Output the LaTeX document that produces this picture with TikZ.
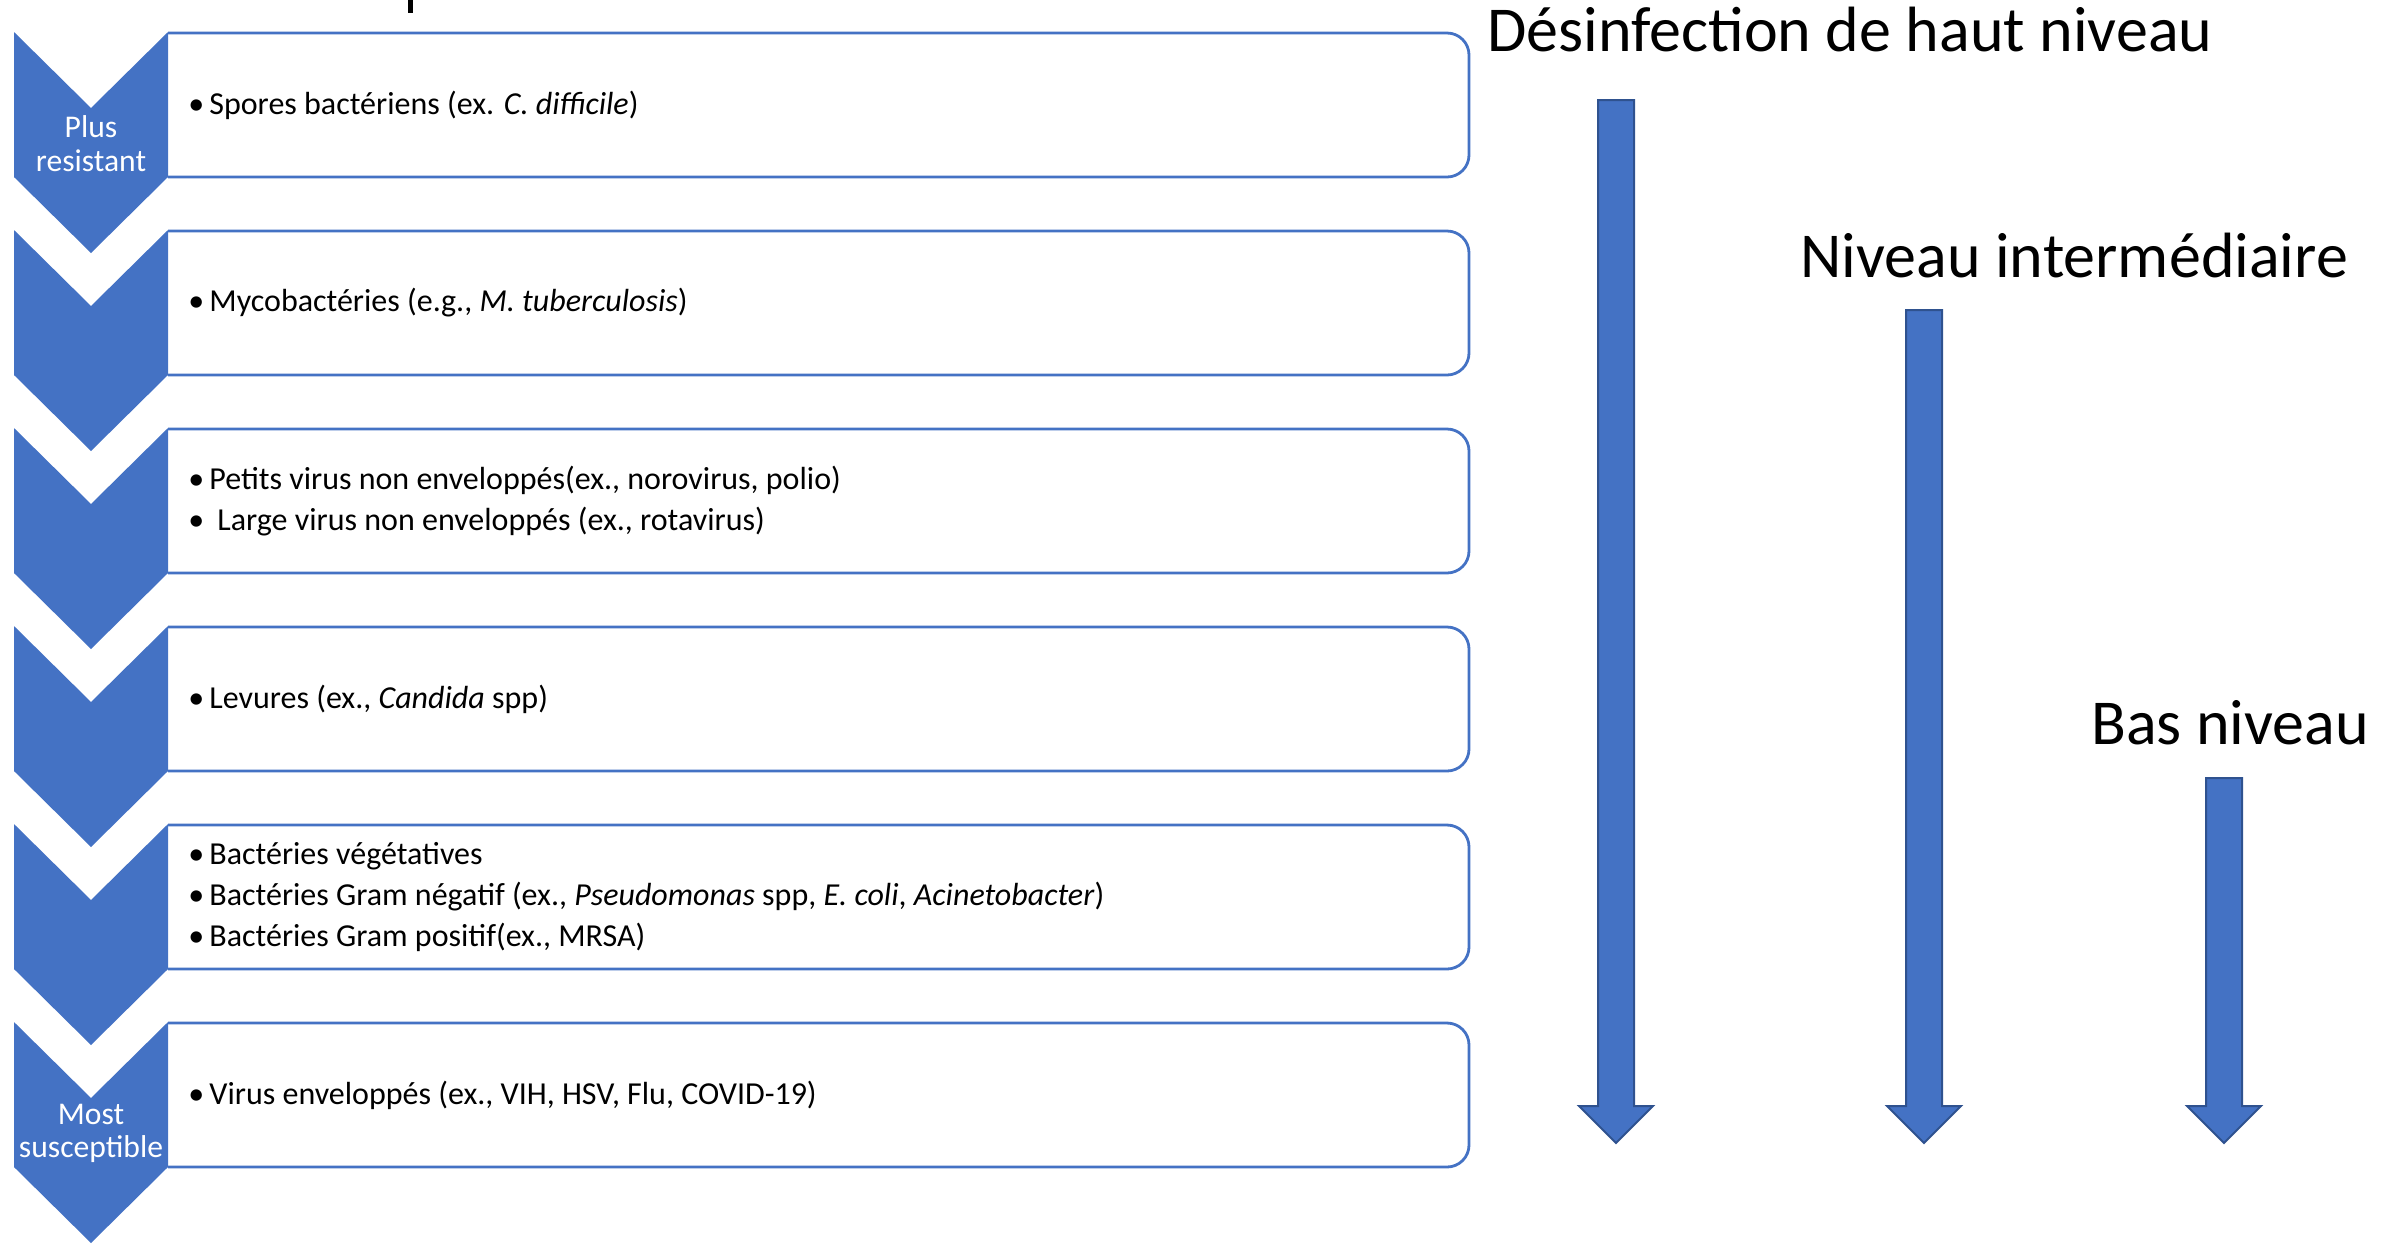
\documentclass[tikz,border=0pt]{standalone}
\usepackage{fontspec}
\setmainfont{Carlito}
\usetikzlibrary{positioning}
\definecolor{blu}{HTML}{4472C4}
\definecolor{bludark}{HTML}{2F528F}
\tikzset{
	chev/.style={
		fill=blu,
	},
	itembox/.style={
		draw=blu,
		line width=1.4pt,
		rounded corners=11pt,
	},
	itemtext/.style={
		anchor=west,
		align=left,
		inner sep=0pt,
		font=\fontsize{16}{20.5}\selectfont,
	},
	chevtext/.style={
		align=center,
		text=white,
		inner sep=0pt,
		font=\fontsize{15.8}{16.8}\selectfont,
	},
	level/.style={
		anchor=base west,
		inner sep=0pt,
		font=\fontsize{32}{36}\selectfont,
	},
	blockarrow/.style={
		fill=blu,
		draw=bludark,
		line width=1pt,
	},
}
\newcommand{\itm}[1]{\makebox[10.5pt][l]{•}#1}

\begin{document}
\begin{tikzpicture}[x=0.5pt, y=-0.5pt]
	\useasboundingbox (0,0) rectangle (2397,1244);

	% cut-off stroke at the top edge
	\fill (408,0) rectangle (413,13);

	% chevrons and item boxes
	\foreach \i in {0,...,5}{
		\pgfmathsetmacro{\t}{32+198*\i}
		\draw[itembox] (168,\t+1) -- (1469,\t+1) -- (1469,\t+145) -- (168,\t+145);
		\fill[chev] (14,\t) -- (91,\t+76) -- (168,\t) -- (168,\t+145) -- (91,\t+221) -- (14,\t+145) -- cycle;
	}

	\node[chevtext] 		(plus) at (91,143.5) {Plus\\resistant};
	\node[chevtext] 		(most) at (91,1133.5) {Most\\susceptible};

	\node[itemtext] 		(spores) at (188,105) {\itm{Spores bactériens (ex. \textit{C. difficile})}};
	\node[itemtext] 		(myco) at (188,303) {\itm{Mycobactéries (e.g., \textit{M. tuberculosis})}};
	\node[itemtext] 		(nonenv) at (188,501) {\itm{Petits virus non enveloppés(ex., norovirus, polio)}\\
		\itm{\hspace{4pt}Large virus non enveloppés (ex., rotavirus)}};
	\node[itemtext] 		(levures) at (188,699) {\itm{Levures (ex., \textit{Candida} spp)}};
	\node[itemtext] 		(bact) at (188,897) {\itm{Bactéries végétatives}\\
		\itm{Bactéries Gram négatif (ex., \textit{Pseudomonas} spp, \textit{E. coli}, \textit{Acinetobacter})}\\
		\itm{Bactéries Gram positif(ex., MRSA)}};
	\node[itemtext] 		(env) at (188,1095) {\itm{Virus enveloppés (ex., VIH, HSV, Flu, COVID-19)}};

	% disinfection levels
	\node[level] 				(haut) at (1487,51.7) {Désinfection de haut niveau};
	\node[level] 				(inter) at (1800,277) {Niveau intermédiaire};
	\node[level] 				(bas) at (2091,744) {Bas niveau};

	\foreach \x/\top in {1616/100, 1924/310, 2224/778}
		\draw[blockarrow] (\x-18,\top) -- (\x+18,\top) -- (\x+18,1106) -- (\x+37,1106)
			-- (\x,1143) -- (\x-37,1106) -- (\x-18,1106) -- cycle;

\end{tikzpicture}
\end{document}
